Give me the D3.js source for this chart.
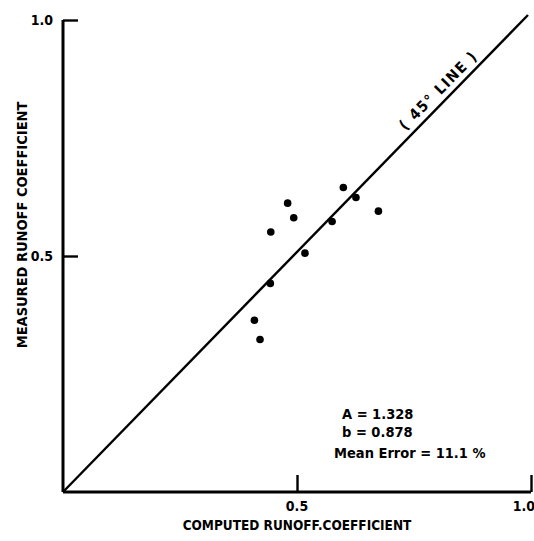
<!DOCTYPE html>
<html>
<head>
<meta charset="utf-8">
<script src="https://cdn.jsdelivr.net/npm/d3@7"></script>
<style>
  html, body { margin: 0; padding: 0; background: #fff; }
  svg text { font-family: "DejaVu Sans Condensed", "DejaVu Sans", sans-serif; fill: #000; }
</style>
</head>
<body>
<svg id="chart" width="534" height="541"></svg>
<script>
// Computed vs measured runoff coefficients
const computed = [0.599, 0.626, 0.674, 0.480, 0.493, 0.575, 0.444, 0.517, 0.443, 0.409, 0.421];
const measured = [0.645, 0.624, 0.595, 0.612, 0.581, 0.573, 0.551, 0.506, 0.442, 0.364, 0.323];
const tickValues = [0.5, 1.0];
const tickLabels = ["0.5", "1.0"];
const lineEnds = [0, 1.0];
const notes = ["A = 1.328", "b = 0.878", "Mean Error = 11.1 %"];

const svg = d3.select("#chart");
const x = d3.scaleLinear().domain([0, 1]).range([63, 531]);
const y = d3.scaleLinear().domain([0, 1]).range([492, 20]);

const ink = "#000";

// 45° reference line
svg.append("line")
  .attr("x1", x(lineEnds[0])).attr("y1", y(lineEnds[0]))
  .attr("x2", x(lineEnds[1]) - 3).attr("y2", y(lineEnds[1]) - 5)
  .attr("stroke", ink).attr("stroke-width", 2.4);

// axes: ticks drawn inward
const xAxis = d3.axisTop(x).tickValues(tickValues).tickSize(17).tickFormat(() => "");
const gx = svg.append("g").attr("transform", `translate(0,${y(0)})`).call(xAxis);
gx.select(".domain").attr("d", `M${x(0)},0H${x(1)}`).attr("stroke", ink).attr("stroke-width", 3);
gx.selectAll(".tick line").attr("stroke", ink).attr("stroke-width", 2.4);

const yAxis = d3.axisRight(y).tickValues(tickValues).tickSize(15).tickFormat(() => "");
const gy = svg.append("g").attr("transform", `translate(${x(0)},0)`).call(yAxis);
gy.select(".domain").attr("d", `M0,${y(0)}V${y(1)}`).attr("stroke", ink).attr("stroke-width", 3);
gy.selectAll(".tick line").attr("stroke", ink).attr("stroke-width", 2.4);

// tick labels
svg.append("text").attr("x", x(0.5)).attr("y", 511)
  .attr("text-anchor", "middle").attr("font-size", 14).attr("font-weight", "bold").text(tickLabels[0]);
svg.append("text").attr("x", 535).attr("y", 511)
  .attr("text-anchor", "end").attr("font-size", 14).attr("font-weight", "bold").text(tickLabels[1]);
svg.append("text").attr("x", 53).attr("y", y(0.5) + 5)
  .attr("text-anchor", "end").attr("font-size", 14).attr("font-weight", "bold").text(tickLabels[0]);
svg.append("text").attr("x", 53).attr("y", y(1.0) + 5)
  .attr("text-anchor", "end").attr("font-size", 14).attr("font-weight", "bold").text(tickLabels[1]);

// axis titles
svg.append("text").attr("x", 297).attr("y", 530)
  .attr("text-anchor", "middle").attr("font-size", 13.5).attr("font-weight", "bold")
  .text("COMPUTED RUNOFF.COEFFICIENT");
svg.append("text")
  .attr("transform", "translate(27,225) rotate(-90)")
  .attr("text-anchor", "middle").attr("font-size", 14.5).attr("font-weight", "bold")
  .text("MEASURED RUNOFF COEFFICIENT");

// line label
const ang = Math.atan2(y(lineEnds[1]) - y(0), x(lineEnds[1]) - x(0)) * 180 / Math.PI;
svg.append("text")
  .attr("transform", `translate(442,94) rotate(${ang})`)
  .attr("text-anchor", "middle").attr("font-size", 15).attr("letter-spacing", 1.5)
  .attr("font-weight", "bold")
  .text("( 45° LINE )");

// observations
svg.append("g").selectAll("circle")
  .data(computed.map((c, i) => [c, measured[i]]))
  .join("circle")
  .attr("cx", d => x(d[0])).attr("cy", d => y(d[1]))
  .attr("r", 3.8).attr("fill", ink);

// fitted parameters
const noteY = [419, 437, 458];
const noteX = [342, 342, 334];
notes.forEach((t, i) => {
  svg.append("text").attr("x", noteX[i]).attr("y", noteY[i])
    .attr("font-size", 14.5).attr("font-weight", "bold").text(t);
});
</script>
</body>
</html>
